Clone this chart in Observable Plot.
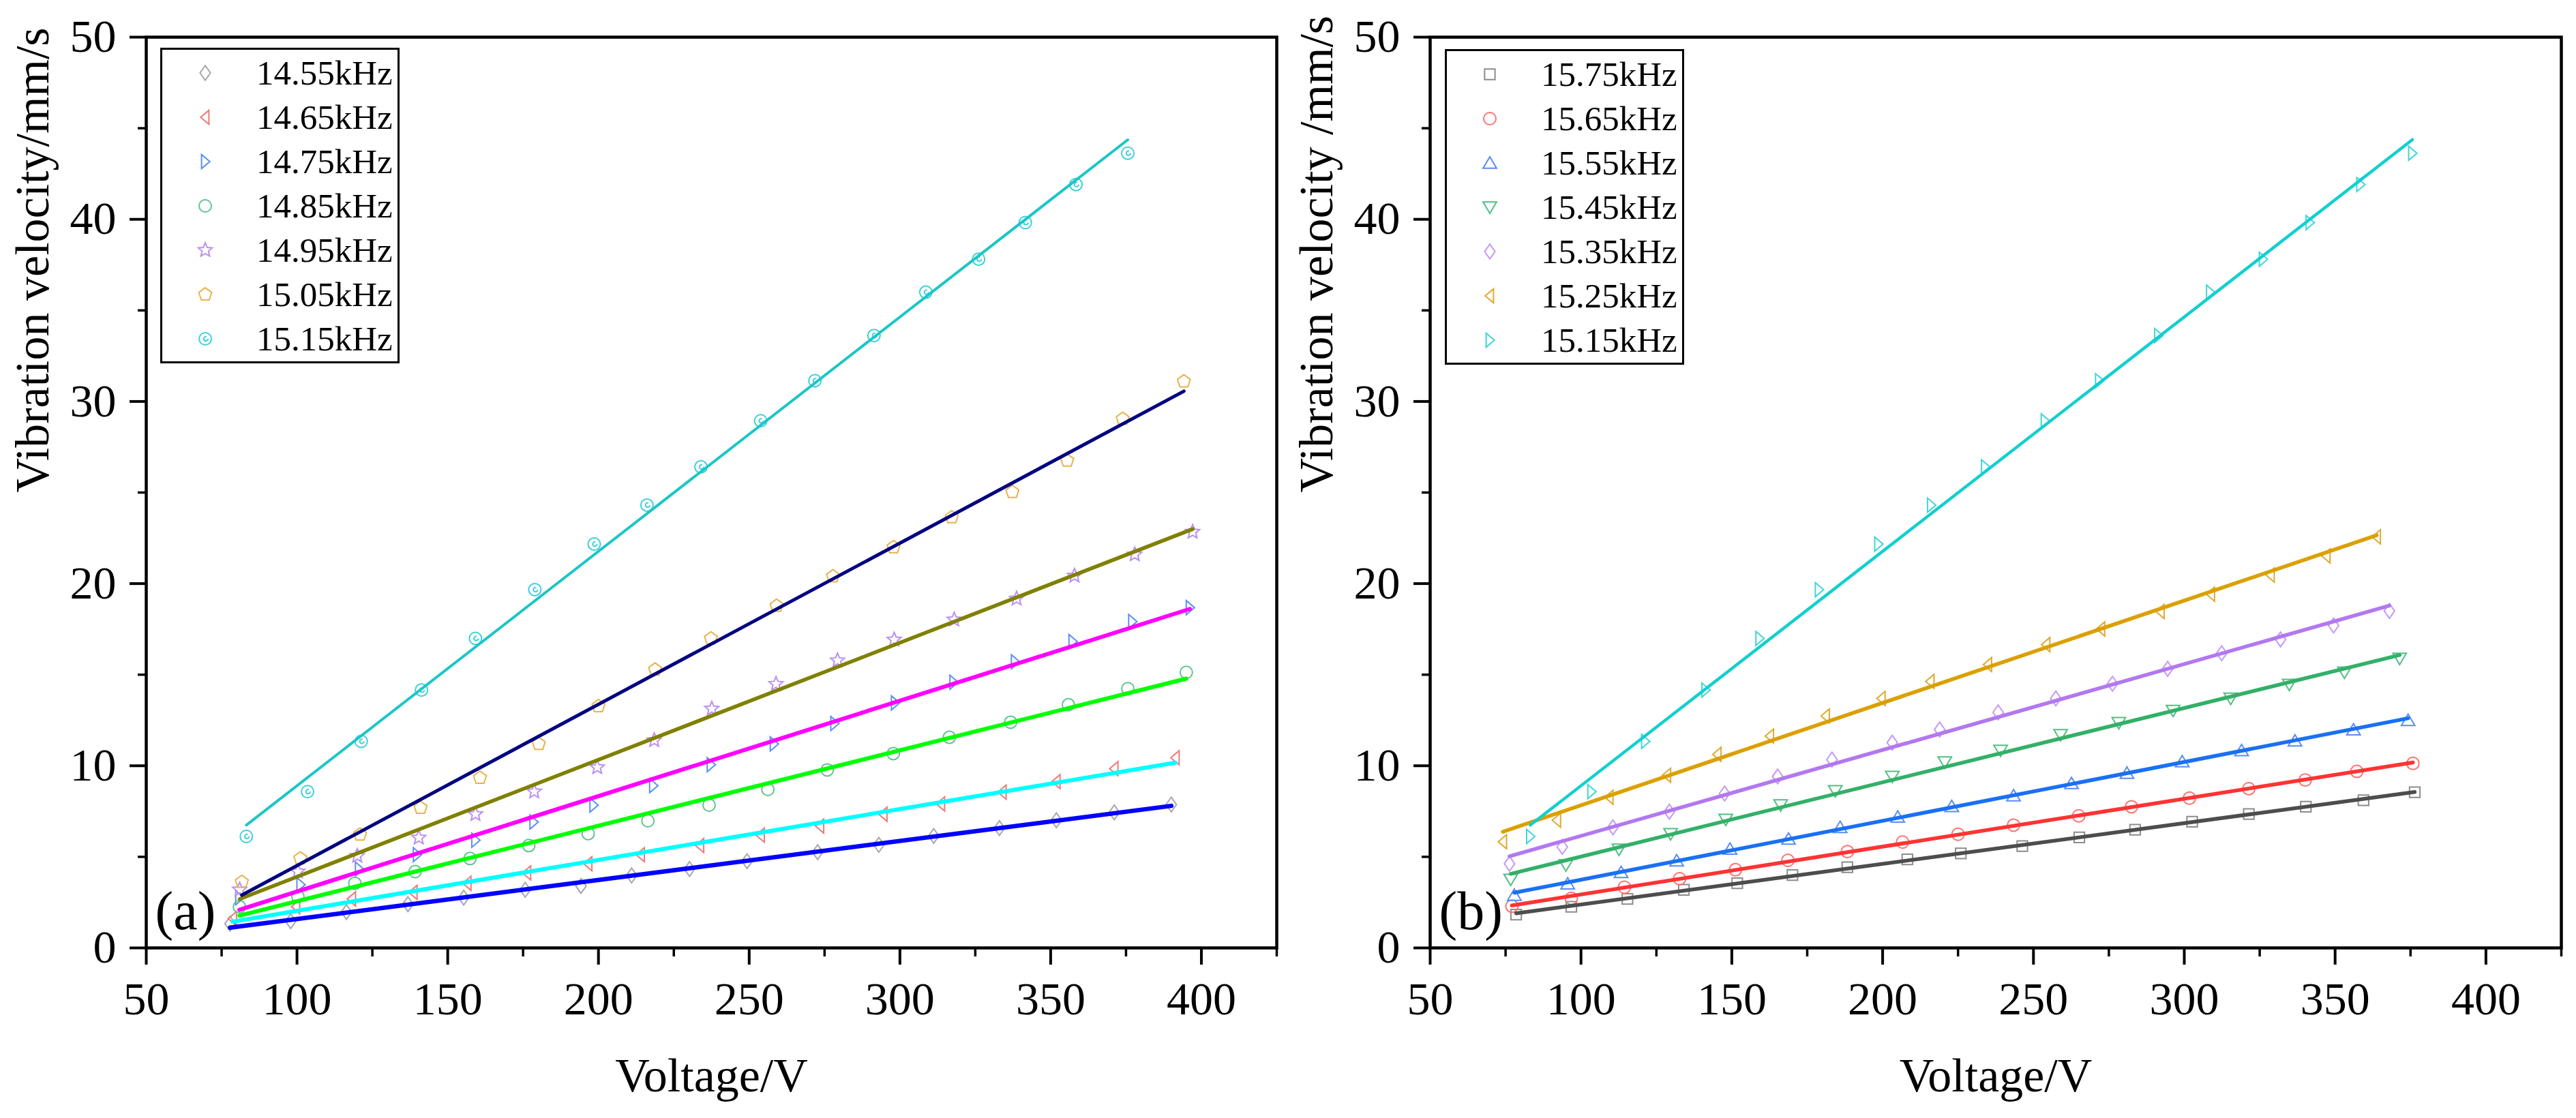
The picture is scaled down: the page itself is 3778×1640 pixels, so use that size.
<!DOCTYPE html>
<html>
<head>
<meta charset="utf-8">
<script src="https://cdn.jsdelivr.net/npm/d3@7"></script>
<script src="https://cdn.jsdelivr.net/npm/@observablehq/plot@0.6"></script>
<style>
  body { margin: 0; background: white; }
  #wrap { position: relative; width: 3778px; height: 1640px; display: flex; font-family: "Liberation Serif", "Times New Roman", serif; }
  .panel { position: relative; width: 1889px; height: 1640px; }
  .legend { position: absolute; border: 3px solid #000; box-sizing: border-box; background: white; padding-top: 1.5px; }
  .legend .row { height: 65px; display: flex; align-items: center; font-size: 51px; line-height: 65px; }
</style>
</head>
<body>
<div id="wrap">
  <div class="panel" id="panel_a"></div>
  <div class="panel" id="panel_b"></div>
</div>
<script>
// ---- panel (a) ----
const volt_1455 = [77.8, 97.9, 116.4, 136.8, 155.3, 175.7, 194.2, 211, 230.2, 249.3, 272.7, 293.0, 311.2, 333, 351.9, 371.1, 390]
const vel_1455 = [1.33, 1.47, 1.97, 2.40, 2.76, 3.19, 3.40, 3.98, 4.33, 4.76, 5.26, 5.66, 6.15, 6.58, 7.01, 7.44, 7.87]

const volt_1465 = [78.7, 99.7, 118.2, 138.6, 156.5, 176.3, 196.6, 214, 233.7, 253.8, 273.5, 294.5, 313.6, 334, 351.9, 371.1, 391.4]
const vel_1465 = [1.61, 2.26, 2.69, 3.05, 3.55, 4.12, 4.62, 5.12, 5.62, 6.19, 6.69, 7.34, 7.91, 8.55, 9.13, 9.84, 10.44]

const volt_1475 = [80.9, 101.2, 120.6, 139.8, 159.2, 178.5, 198.4, 218.2, 237.3, 258.2, 278.3, 298.4, 317.8, 338.2, 357.3, 377.1, 396.2]
const vel_1475 = [2.75, 3.47, 4.33, 5.12, 5.91, 6.91, 7.84, 8.91, 10.06, 11.2, 12.32, 13.45, 14.59, 15.71, 16.82, 17.92, 18.68]

const volt_1485 = [80.9, 100.3, 119.2, 139.2, 157.4, 176.9, 196.6, 216.4, 236.7, 256.2, 275.9, 297.8, 316.4, 336.7, 355.9, 375.6, 395]
const vel_1485 = [2.26, 2.83, 3.55, 4.19, 4.91, 5.62, 6.27, 6.98, 7.84, 8.7, 9.77, 10.67, 11.56, 12.39, 13.35, 14.23, 15.13]

const volt_1495 = [81, 100.3, 120, 140.4, 159.2, 178.7, 199.6, 218.5, 237.6, 258.9, 279.3, 298.1, 318, 338.7, 357.9, 377.9, 397.1]
const vel_1495 = [3.2, 4.19, 5.05, 6.05, 7.34, 8.58, 9.91, 11.4, 13.13, 14.49, 15.78, 16.92, 18.02, 19.17, 20.43, 21.6, 22.84]

const volt_1505 = [81.7, 101.1, 120.9, 141, 160.7, 180.2, 200, 218.8, 237.3, 259.1, 277.8, 297.9, 317.2, 337.3, 355.5, 373.9, 394.2]
const vel_1505 = [3.62, 4.91, 6.22, 7.69, 9.34, 11.2, 13.27, 15.28, 16.99, 18.78, 20.4, 22.0, 23.64, 25.03, 26.75, 29.04, 31.1]

// 15.15kHz appears in both panels
const volt_1515 = [83.2, 103.5, 121.3, 141.3, 159.2, 178.9, 198.6, 216.1, 234, 253.8, 271.8, 291.4, 308.6, 326.1, 341.6, 358.4, 375.6]
const vel_1515 = [6.12, 8.58, 11.34, 14.16, 16.99, 19.67, 22.17, 24.31, 26.41, 28.94, 31.14, 33.62, 36.0, 37.81, 39.82, 41.91, 43.63]

// ---- panel (b) ----
const volt_1575 = [78.5, 96.8, 115.4, 134.1, 151.8, 170.1, 188.3, 208.2, 225.9, 246.3, 265.2, 283.7, 302.6, 321.4, 340.3, 359.4, 376.4]
const vel_1575 = [1.83, 2.26, 2.69, 3.19, 3.55, 4.00, 4.43, 4.86, 5.19, 5.59, 6.07, 6.49, 6.93, 7.35, 7.75, 8.11, 8.55]

const volt_1565 = [77.1, 96.8, 114.4, 132.7, 151.2, 168.6, 188.3, 206.6, 225, 243.4, 265, 282.5, 301.7, 321.4, 340.1, 357.2, 375.8]
const vel_1565 = [2.29, 2.72, 3.33, 3.80, 4.29, 4.81, 5.29, 5.81, 6.24, 6.74, 7.25, 7.75, 8.22, 8.74, 9.22, 9.69, 10.13]

const volt_1555 = [77.9, 95.6, 113.3, 131.7, 149.4, 168.8, 185.9, 205, 222.9, 243.4, 262.6, 281, 299.3, 319, 336.7, 356.1, 374.2]
const vel_1555 = [2.90, 3.52, 4.15, 4.79, 5.43, 5.98, 6.62, 7.19, 7.77, 8.36, 9.03, 9.6, 10.23, 10.84, 11.37, 11.98, 12.5]

const volt_1545 = [76.7, 95, 112.6, 129.7, 148, 166.2, 184.3, 203.2, 220.6, 239.1, 259, 278.3, 296.3, 315.4, 334.8, 353.1, 371.4]
const vel_1545 = [3.76, 4.55, 5.41, 6.26, 7.05, 7.84, 8.62, 9.41, 10.2, 10.84, 11.7, 12.36, 13.03, 13.7, 14.46, 15.13, 15.89]

const volt_1535 = [76.3, 93.8, 110.6, 129.3, 147.6, 165.2, 183.2, 203.2, 218.9, 238.3, 257.4, 276.2, 294.5, 312.4, 331.9, 349.5, 368]
const vel_1535 = [4.62, 5.55, 6.62, 7.48, 8.48, 9.41, 10.34, 11.27, 11.99, 12.93, 13.7, 14.5, 15.32, 16.18, 16.94, 17.7, 18.5]

const volt_1525 = [74.1, 92, 109.4, 128.5, 145.2, 162.6, 181.1, 199.6, 215.8, 234.9, 254.2, 272.4, 292.1, 308.8, 328.6, 347.1, 363.8]
const vel_1525 = [5.83, 7.01, 8.27, 9.48, 10.63, 11.63, 12.73, 13.7, 14.63, 15.56, 16.65, 17.51, 18.47, 19.42, 20.47, 21.52, 22.57]

const labelsA = ["14.55kHz", "14.65kHz", "14.75kHz", "14.85kHz", "14.95kHz", "15.05kHz", "15.15kHz"]
const labelsB = ["15.75kHz", "15.65kHz", "15.55kHz", "15.45kHz", "15.35kHz", "15.25kHz", "15.15kHz"]
const xTicks = [50, 100, 150, 200, 250, 300, 350, 400]
const xMinor = [75, 125, 175, 225, 275, 325, 375, 425]
const yTicks = [0, 10, 20, 30, 40, 50]
const yMinor = [5, 15, 25, 35, 45]

// custom Origin-like symbols (size = area, as Plot passes it)
const rad = s => Math.sqrt(s / Math.PI)
const sym = {
  diamond: {draw(c, s) { const r = rad(s); c.moveTo(0, -1.2 * r); c.lineTo(0.85 * r, 0); c.lineTo(0, 1.2 * r); c.lineTo(-0.85 * r, 0); c.closePath() }},
  triLeft: {draw(c, s) { const r = rad(s); c.moveTo(-0.75 * r, 0); c.lineTo(0.6 * r, -1.15 * r); c.lineTo(0.6 * r, 1.15 * r); c.closePath() }},
  triRight: {draw(c, s) { const r = rad(s); c.moveTo(0.75 * r, 0); c.lineTo(-0.6 * r, -1.15 * r); c.lineTo(-0.6 * r, 1.15 * r); c.closePath() }},
  triUp: {draw(c, s) { const r = rad(s); c.moveTo(0, -1.0 * r); c.lineTo(1.1 * r, 0.85 * r); c.lineTo(-1.1 * r, 0.85 * r); c.closePath() }},
  triDown: {draw(c, s) { const r = rad(s); c.moveTo(0, 1.0 * r); c.lineTo(1.1 * r, -0.85 * r); c.lineTo(-1.1 * r, -0.85 * r); c.closePath() }},
  circle: {draw(c, s) { const r = rad(s); c.moveTo(r, 0); c.arc(0, 0, r, 0, 2 * Math.PI) }},
  square: {draw(c, s) { const r = rad(s); c.rect(-0.85 * r, -0.85 * r, 1.7 * r, 1.7 * r) }},
  star: {draw(c, s) {
    const R = rad(s) * 1.2, q = R * 0.45
    for (let k = 0; k < 10; k++) {
      const a = -Math.PI / 2 + k * Math.PI / 5, d = k % 2 ? q : R
      k ? c.lineTo(d * Math.cos(a), d * Math.sin(a)) : c.moveTo(d * Math.cos(a), d * Math.sin(a))
    }
    c.closePath()
  }},
  pentagon: {draw(c, s) {
    const R = rad(s) * 1.1
    for (let k = 0; k < 5; k++) {
      const a = -Math.PI / 2 + k * 2 * Math.PI / 5
      k ? c.lineTo(R * Math.cos(a), R * Math.sin(a)) : c.moveTo(R * Math.cos(a), R * Math.sin(a))
    }
    c.closePath()
  }},
  circleDot: {draw(c, s) {
    const r = rad(s)
    c.moveTo(r, 0); c.arc(0, 0, r, 0, 2 * Math.PI)
    c.moveTo(0.45 * r, 0); c.arc(0.1 * r, 0, 0.35 * r, 0, 1.6 * Math.PI)
  }}
}

const rows = (V, v) => V.map((x, i) => ({V: x, v: v[i]}))

const seriesA = [
  {data: rows(volt_1455, vel_1455), symbol: sym.diamond, color: "#a8a8a8", line: "#0000ff", lw: 6.5},
  {data: rows(volt_1465, vel_1465), symbol: sym.triLeft, color: "#f27878", line: "#00ffff", lw: 6},
  {data: rows(volt_1475, vel_1475), symbol: sym.triRight, color: "#5b8ff5", line: "#ff00ff", lw: 6},
  {data: rows(volt_1485, vel_1485), symbol: sym.circle, color: "#5fc48f", line: "#00ff00", lw: 6},
  {data: rows(volt_1495, vel_1495), symbol: sym.star, color: "#bb8ff2", line: "#808000", lw: 5.5},
  {data: rows(volt_1505, vel_1505), symbol: sym.pentagon, color: "#e6b44c", line: "#000080", lw: 5},
  {data: rows(volt_1515, vel_1515), symbol: sym.circleDot, color: "#3dd0da", line: "#1cc6c6", lw: 4}
]
const seriesB = [
  {data: rows(volt_1575, vel_1575), symbol: sym.square, color: "#8c8c8c", line: "#4d4d4d", lw: 5.5},
  {data: rows(volt_1565, vel_1565), symbol: sym.circle, color: "#ff7272", line: "#ff3333", lw: 5.5},
  {data: rows(volt_1555, vel_1555), symbol: sym.triUp, color: "#5a8cf5", line: "#1a70f5", lw: 5.5},
  {data: rows(volt_1545, vel_1545), symbol: sym.triDown, color: "#52bf84", line: "#33b068", lw: 5.5},
  {data: rows(volt_1535, vel_1535), symbol: sym.diamond, color: "#c49af5", line: "#b278f0", lw: 5.5},
  {data: rows(volt_1525, vel_1525), symbol: sym.triLeft, color: "#e0a830", line: "#dba000", lw: 5.5},
  {data: rows(volt_1515, vel_1515), symbol: sym.triRight, color: "#40d6d8", line: "#12cfcf", lw: 4.5}
]

function panel(series, {marginLeft, marginRight, yLabel, tag}) {
  return Plot.plot({
    width: 1889,
    height: 1640,
    marginLeft,
    marginRight,
    marginTop: 54,
    marginBottom: 250,
    x: {domain: [50, 425]},
    y: {domain: [0, 50]},
    style: {fontFamily: "'Liberation Serif', 'Times New Roman', serif", background: "white", color: "black"},
    marks: [
      ...series.map(s => Plot.dot(s.data, {x: "V", y: "v", symbol: s.symbol, r: 9, stroke: s.color, strokeWidth: 2, fill: "none"})),
      ...series.map(s => Plot.linearRegressionY(s.data, {x: "V", y: "v", stroke: s.line, strokeWidth: s.lw, ci: 0})),
      Plot.axisX({ticks: xTicks, tickSize: 25, tickPadding: 24, fontSize: 68, strokeWidth: 4, label: null}),
      Plot.axisX({ticks: xMinor, tickSize: 13, tickFormat: () => "", strokeWidth: 3.5, label: null}),
      Plot.axisY({ticks: yTicks, tickSize: 24, tickPadding: 20, fontSize: 68, strokeWidth: 4, label: null}),
      Plot.axisY({ticks: yMinor, tickSize: 12, tickFormat: () => "", strokeWidth: 3.5, label: null}),
      Plot.frame({strokeWidth: 4.5}),
      Plot.text(["Voltage/V"], {frameAnchor: "bottom", dy: 188, fontSize: 70, lineAnchor: "middle"}),
      Plot.text([yLabel], {frameAnchor: "left", dx: -166, rotate: -90, fontSize: 70, lineAnchor: "middle"}),
      Plot.text([tag], {frameAnchor: "bottom-left", dx: 13, dy: -53, fontSize: 80, textAnchor: "start", lineAnchor: "middle"})
    ]
  })
}

function legend(el, labels, series, left, top) {
  const box = d3.select(el).append("div").attr("class", "legend")
    .style("left", left + "px").style("top", top + "px")
    .style("width", "351px").style("height", "463px")
  labels.forEach((lab, i) => {
    const row = box.append("div").attr("class", "row")
    const svg = row.append("svg").attr("width", 40).attr("height", 40).style("margin-left", "43px")
    svg.append("path")
      .attr("transform", "translate(20,20)")
      .attr("d", d3.symbol(series[i].symbol, 81 * Math.PI)())
      .attr("fill", "none").attr("stroke", series[i].color).attr("stroke-width", 2)
    row.append("span").style("margin-left", "55px").text(lab)
  })
}

const elA = document.getElementById("panel_a")
const elB = document.getElementById("panel_b")
elA.append(panel(seriesA, {marginLeft: 214, marginRight: 17, yLabel: "Vibration velocity/mm/s", tag: "(a)"}))
elB.append(panel(seriesB, {marginLeft: 208, marginRight: 22, yLabel: "Vibration velocity /mm/s", tag: "(b)"}))
legend(elA, labelsA, seriesA, 235, 70)
legend(elB, labelsB, seriesB, 230, 72)
</script>
</body>
</html>
